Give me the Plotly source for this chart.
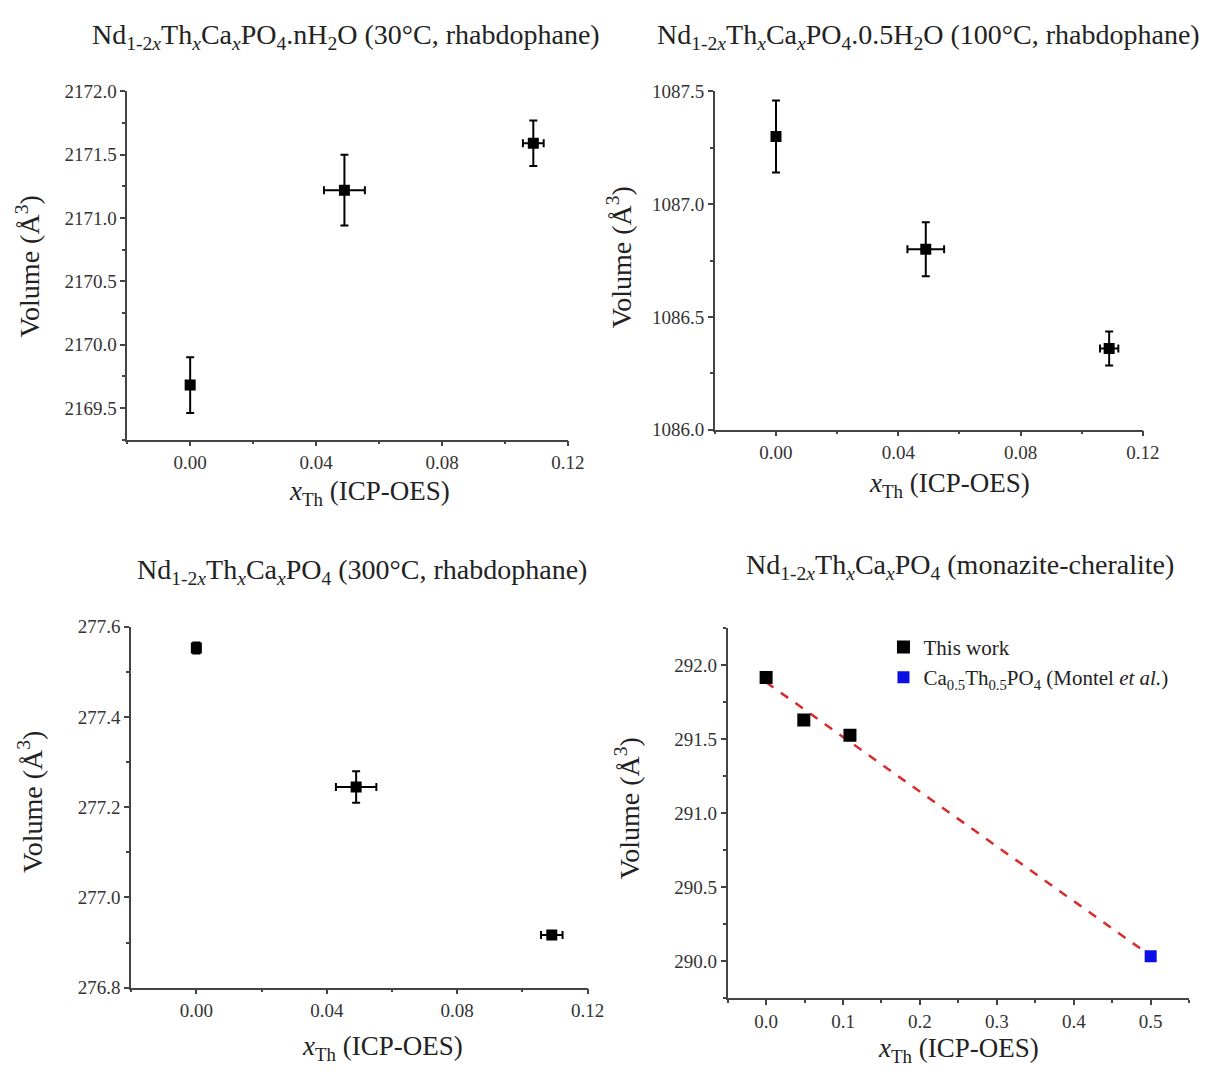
import numpy as np
import plotly.graph_objects as go

# ---------------- data ----------------
x_th = [0.0, 0.049, 0.109]
x_th_err = [0.0, 0.0065, 0.0033]

v30 = [2169.68, 2171.22, 2171.59]
v30_err = [0.22, 0.28, 0.18]

v100 = [1087.30, 1086.80, 1086.36]
v100_err = [0.16, 0.12, 0.075]
x100_err = [0.0, 0.006, 0.003]

v300 = [277.553, 277.245, 276.917]
v300_err = [0.012, 0.035, 0.007]
x300_err = [0.0, 0.0062, 0.0033]

v_mon = [291.915, 291.628, 291.525]
x_montel = [0.5]
v_montel = [290.035]

titles = [
    "Nd<sub>1-2<i>x</i></sub>Th<sub><i>x</i></sub>Ca<sub><i>x</i></sub>PO<sub>4</sub>.nH<sub>2</sub>O (30°C, rhabdophane)",
    "Nd<sub>1-2<i>x</i></sub>Th<sub><i>x</i></sub>Ca<sub><i>x</i></sub>PO<sub>4</sub>.0.5H<sub>2</sub>O (100°C, rhabdophane)",
    "Nd<sub>1-2<i>x</i></sub>Th<sub><i>x</i></sub>Ca<sub><i>x</i></sub>PO<sub>4</sub> (300°C, rhabdophane)",
    "Nd<sub>1-2<i>x</i></sub>Th<sub><i>x</i></sub>Ca<sub><i>x</i></sub>PO<sub>4</sub> (monazite-cheralite)",
]
ylabel = "Volume (Å<sup>3</sup>)"
xlabel = "<i>x</i><sub>Th</sub> (ICP-OES)"

# linear fit through all monazite points
fit_x = np.array(x_th + x_montel)
fit_y = np.array(v_mon + v_montel)
slope, intercept = np.polyfit(fit_x, fit_y, 1)
line_x = np.array([0.0, 0.5])
line_y = slope * line_x + intercept

W, H = 1215, 1084
FONT = "Liberation Serif"

def px_x(a, b):
    return [a / W, b / W]

def px_y(top, bottom):
    return [1 - bottom / H, 1 - top / H]

fig = go.Figure()

err_style = dict(color="black", thickness=2, width=4)

def add_panel(i, y, yerr, xerr):
    fig.add_trace(go.Scatter(
        x=x_th, y=y, mode="markers",
        marker=dict(symbol="square", size=11, color="black"),
        error_y=dict(type="data", array=yerr, visible=True, **err_style),
        error_x=dict(type="data", array=xerr, visible=True, **err_style),
        xaxis=f"x{i}" if i > 1 else "x", yaxis=f"y{i}" if i > 1 else "y",
        showlegend=False, hoverinfo="x+y"))

add_panel(1, v30, v30_err, x_th_err)
add_panel(2, v100, v100_err, x100_err)
add_panel(3, v300, v300_err, x300_err)

fig.add_trace(go.Scatter(
    x=line_x, y=line_y, mode="lines",
    line=dict(color="#d92b2b", width=2.5, dash="dash"),
    xaxis="x4", yaxis="y4", showlegend=False, hoverinfo="skip"))
fig.add_trace(go.Scatter(
    x=x_th, y=v_mon, mode="markers", name="This work",
    marker=dict(symbol="square", size=13, color="black"),
    xaxis="x4", yaxis="y4"))
fig.add_trace(go.Scatter(
    x=x_montel, y=v_montel, mode="markers",
    name="Ca<sub>0.5</sub>Th<sub>0.5</sub>PO<sub>4</sub> (Montel <i>et al.</i>)",
    marker=dict(symbol="square", size=12, color="#0a10e6"),
    xaxis="x4", yaxis="y4"))

axis_common = dict(
    showline=True, linecolor="#444", linewidth=1.5, mirror=False,
    ticks="outside", ticklen=5, tickwidth=1.5, tickcolor="#444",
    showgrid=False, zeroline=False,
    tickfont=dict(family=FONT, size=19, color="#333"),
)

def xaxis(domain, anchor, rng, dtick, minor_d, fmt):
    return dict(axis_common, domain=domain, anchor=anchor, range=rng,
                tick0=0, dtick=dtick, tickformat=fmt,
                minor=dict(ticks="outside", ticklen=3, tickcolor="#444", dtick=minor_d, tick0=0))

def yaxis(domain, anchor, rng, tick0, dtick, minor_d, fmt):
    return dict(axis_common, domain=domain, anchor=anchor, range=rng,
                tick0=tick0, dtick=dtick, tickformat=fmt,
                minor=dict(ticks="outside", ticklen=3, tickcolor="#444", dtick=minor_d, tick0=tick0))

fig.update_layout(
    width=W, height=H,
    margin=dict(l=0, r=0, t=0, b=0),
    paper_bgcolor="white", plot_bgcolor="white",
    font=dict(family=FONT, color="#222"),
    xaxis=xaxis(px_x(129, 576), "y", [-0.02, 0.12], 0.04, 0.02, ".2f"),
    yaxis=yaxis(px_y(83, 438), "x", [2169.25, 2172.0], 2169.5, 0.5, 0.25, ".1f"),
    xaxis2=xaxis(px_x(725, 1159), "y2", [-0.02, 0.12], 0.04, 0.02, ".2f"),
    yaxis2=yaxis(px_y(83, 428), "x2", [1086.0, 1087.5], 1086.0, 0.5, 0.25, ".1f"),
    xaxis3=xaxis(px_x(133, 596), "y3", [-0.02, 0.12], 0.04, 0.02, ".2f"),
    yaxis3=yaxis(px_y(629, 997), "x3", [276.8, 277.6], 276.8, 0.2, 0.1, ".1f"),
    xaxis4=xaxis(px_x(738, 1206), "y4", [-0.05, 0.55], 0.1, 0.05, ".1f"),
    yaxis4=yaxis(px_y(630, 1008), "x4", [289.75, 292.25], 290.0, 0.5, 0.25, ".1f"),
    showlegend=True,
    legend=dict(x=896 / W, y=1 - 629 / H, xanchor="left", yanchor="top",
                bgcolor="rgba(0,0,0,0)", font=dict(family=FONT, size=21, color="#222"),
                itemwidth=30, tracegroupgap=0),
)

ann = []
title_pos = [(351, 27), (942, 27), (367, 573), (974, 568)]
for t, (cx, cy) in zip(titles, title_pos):
    ann.append(dict(text=t, x=cx / W, y=1 - cy / H, xref="paper", yref="paper",
                    xanchor="center", yanchor="middle", showarrow=False,
                    font=dict(family=FONT, size=28, color="#222")))
ylab_pos = [(29, 262), (628, 252), (31, 808), (636, 814)]
for (cx, cy) in ylab_pos:
    ann.append(dict(text=ylabel, x=cx / W, y=1 - cy / H, xref="paper", yref="paper",
                    xanchor="center", yanchor="middle", textangle=-90, showarrow=False,
                    font=dict(family=FONT, size=28, color="#222")))
xlab_pos = [(375, 493), (963, 484), (388, 1058), (972, 1061)]
for (cx, cy) in xlab_pos:
    ann.append(dict(text=xlabel, x=cx / W, y=1 - cy / H, xref="paper", yref="paper",
                    xanchor="center", yanchor="middle", showarrow=False,
                    font=dict(family=FONT, size=27, color="#222")))
fig.update_layout(annotations=ann)

fig.write_html("out.html")
